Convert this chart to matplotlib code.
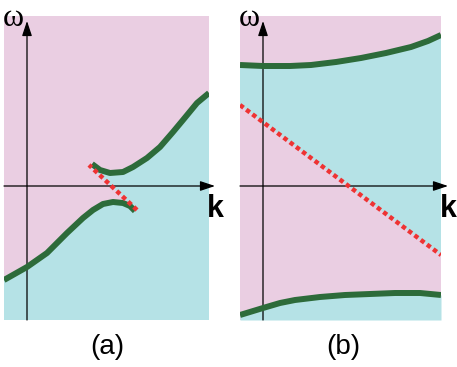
import numpy as np
import matplotlib.pyplot as plt

# colours
pink = "#eaceE2"
cyan = "#b5e2e6"
green = "#2d6b3a"
red = "#ee3333"

# panel (a): avoided crossing
a_low_k = [-2.3, 0, 2.0, 4.0, 5.6, 6.6, 7.6, 8.6, 9.6, 10.3, 10.8]
a_low_w = [-9.4, -8.1, -6.7, -4.7, -3.2, -2.4, -1.8, -1.6, -1.7, -2.0, -2.5]
a_up_k = [6.5, 7.3, 8.3, 9.6, 10.6, 12.0, 13.3, 14.6, 15.6, 17.0, 18.2]
a_up_w = [2.2, 1.6, 1.3, 1.4, 1.9, 2.8, 3.9, 5.4, 6.6, 8.3, 9.3]
a_red_k = [11.0, 6.2]
a_red_w = [-2.4, 2.1]

# panel (b): gap with a crossing line
b_top_k = [-2.3, 0, 2.7, 4.8, 7.3, 9.8, 12.3, 14.8, 16.5, 17.8]
b_top_w = [12.1, 12.0, 12.0, 12.1, 12.4, 12.8, 13.3, 13.9, 14.5, 15.1]
b_red_k = [-2.3, 17.8]
b_red_w = [8.1, -6.9]
b_bot_k = [-2.3, 0, 1.7, 3.2, 5.7, 8.2, 10.7, 13.2, 15.7, 17.8]
b_bot_w = [-12.9, -12.2, -11.7, -11.4, -11.1, -10.9, -10.8, -10.7, -10.7, -10.9]

W, H = 457, 367
fig = plt.figure(figsize=(W / 100, H / 100), dpi=100)
ax_a = fig.add_axes([4 / W, 47 / H, 205 / W, 304 / H])
ax_b = fig.add_axes([240 / W, 47 / H, 201 / W, 304 / H])

ax_a.set_xlim(-2.3, 18.2)
ax_b.set_xlim(-2.3, 17.8)
ymin, ymax = -13.4, 17.0

for ax, tip_k, label in [(ax_a, 18.8, "(a)"), (ax_b, 18.5, "(b)")]:
    ax.set_ylim(ymin, ymax)
    ax.set_facecolor(pink)
    for s in ax.spines.values():
        s.set_visible(False)
    ax.set_xticks([])
    ax.set_yticks([])
    arrow = dict(arrowstyle="-|>,head_length=0.9,head_width=0.3", lw=0.9,
                 color="black", shrinkA=0, shrinkB=0)
    ax.annotate("", xy=(tip_k, 0), xytext=(ax.get_xlim()[0], 0),
                arrowprops=arrow, annotation_clip=False, zorder=2)
    ax.annotate("", xy=(0, 16.5), xytext=(0, ymin),
                arrowprops=arrow, annotation_clip=False, zorder=2)
    ax.text(tip_k, -2.3, "k", fontsize=22, fontweight="bold",
            family="Liberation Sans", ha="center", va="center", clip_on=False)
    ax.text(-1.4, 16.7, "ω", fontsize=23, family="Liberation Serif",
            ha="center", va="center", clip_on=False)
    ax.text(8.0, -16.1, label, fontsize=20, family="Liberation Sans",
            ha="center", va="center", clip_on=False)

# panel (a) fill: cyan below the boundary made of lower branch, red line, upper branch
bound_k = a_low_k + a_red_k + a_up_k + [18.2, -2.3]
bound_w = a_low_w + a_red_w + a_up_w + [ymin, ymin]
ax_a.fill(bound_k, bound_w, color=cyan, lw=0, zorder=1)
ax_a.plot(a_low_k, a_low_w, color=green, lw=4.3, solid_capstyle="butt", zorder=3)
ax_a.plot(a_up_k, a_up_w, color=green, lw=4.3, solid_capstyle="butt", zorder=3)
ax_a.plot(a_red_k, a_red_w, color=red, lw=3.2, ls=(0, (1, 0.75)),
          dash_capstyle="butt", zorder=4)

# panel (b) fills
ax_b.fill(b_top_k + b_red_k[::-1], b_top_w + b_red_w[::-1], color=cyan, lw=0, zorder=1)
ax_b.fill_between(b_bot_k, b_bot_w, ymin, color=cyan, lw=0, zorder=1)
ax_b.plot(b_top_k, b_top_w, color=green, lw=4.3, solid_capstyle="butt", zorder=3)
ax_b.plot(b_bot_k, b_bot_w, color=green, lw=4.3, solid_capstyle="butt", zorder=3)
ax_b.plot(b_red_k, b_red_w, color=red, lw=3.2, ls=(0, (1, 0.75)),
          dash_capstyle="butt", zorder=4)

fig.savefig("out.png", dpi=100)
